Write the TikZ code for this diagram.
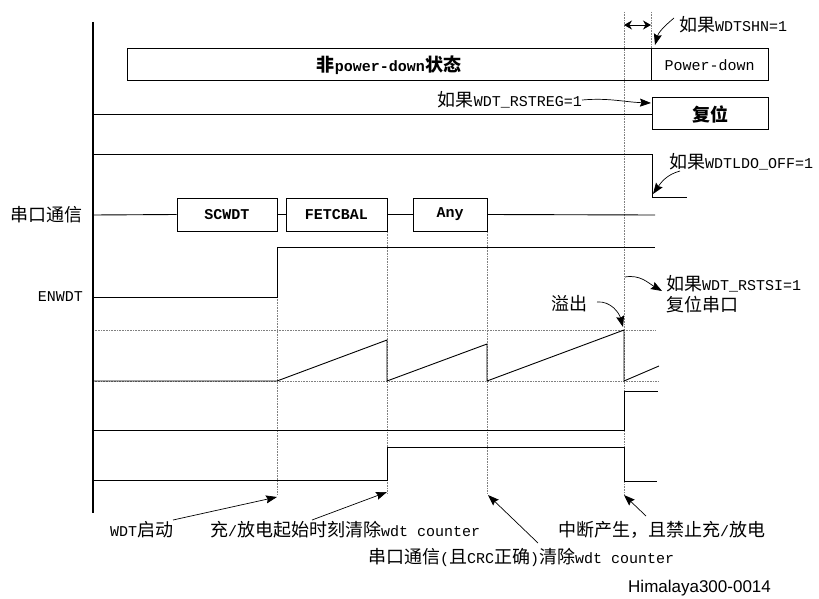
\documentclass[tikz,border=0pt]{standalone}
\usepackage{fontspec}
\setmainfont{Liberation Mono}
\setsansfont{Liberation Sans}
\newfontfamily\cjk{Noto Sans CJK SC}[Scale=1.2]
\newcommand{\C}[1]{{\cjk #1}}
\usetikzlibrary{arrows.meta}
\begin{document}
\begin{tikzpicture}[x=1pt,y=-1pt,
  every node/.style={font=\fontsize{15}{18}\selectfont},
  box/.style={draw, line width=1pt, inner sep=0pt, minimum height=33pt},
  sig/.style={line width=0.9pt},
  gridline/.style={densely dotted, gray, line width=0.6pt},
  arr/.style={-{Stealth[length=11pt,width=8pt,inset=1.5pt]}, line width=0.7pt},
  lbl/.style={inner sep=0pt}]
\useasboundingbox (0,0) rectangle (819,599);
% dotted guides
\draw[gridline] (277,297) -- (277,494);
\draw[gridline] (387,232) -- (387,494);
\draw[gridline] (487,232) -- (487,494);
\draw[gridline] (624,12) -- (624,495);
\draw[gridline] (651,12) -- (651,49);
\draw[gridline] (93,330) -- (655,330);
\draw[gridline] (93,381) -- (658,381);
% axis
\draw[line width=1.3pt] (93,22) -- (93,513);
% state boxes
\node[box, minimum width=524pt, minimum height=32pt] (np) at (389,65) {\bfseries\C{非}power-down\C{状态}};
\node[box, minimum width=117pt, minimum height=32pt] (pd) at (709.5,65) {Power-down};
\node[box, minimum width=116pt, minimum height=32pt] (rs) at (710,114) {\bfseries\C{\bfseries 复位}};
% timing double arrow
\coordinate (dA) at (624,25);
\coordinate (dB) at (651,25);
\draw[{Stealth[length=8pt,width=9pt]}-{Stealth[length=8pt,width=9pt]}, line width=0.9pt] (dA) -- (dB);
% WDTSHN
\node[lbl, anchor=west] (shn) at (679,25) {\C{如果}WDTSHN=1};
\coordinate (shnS) at (674,18);
\coordinate (shnE) at (655,45);
\draw[arr] (shnS) to[out=220,in=75] (shnE);
% reset line
\draw[sig] (93,114) -- (rs.west);
\node[lbl, anchor=east] (rstreg) at (582,100) {\C{如果}WDT\_RSTREG=1};
\coordinate (rstregE) at (651,103);
\draw[arr] (rstreg.east) to[out=5,in=178] (rstregE);
% LDO line
\draw[sig] (93,154) -- (652,154) -- (652,197) -- (687,197);
\node[lbl, anchor=west] (ldo) at (669,162) {\C{如果}WDTLDO\_OFF=1};
\coordinate (ldoS) at (680,171);
\coordinate (ldoE) at (653,194);
\draw[arr] (ldoS) to[out=195,in=55] (ldoE);
% serial communication
\node[lbl, anchor=east] (uart) at (83,215) {\C{串口通信}};
\node[box, minimum width=100pt] (sc) at (227,214.5) {\bfseries SCWDT};
\node[box, minimum width=101pt] (fe) at (336.5,214.5) {\bfseries FETCBAL};
\node[box, minimum width=74pt] (any) at (450,214.5) {\bfseries Any};
\coordinate (uartS) at (93,215);
\coordinate (uartE) at (655,215);
\draw[sig] (uartS) -- (sc.west);
\draw[sig] (sc.east) -- (fe.west);
\draw[sig] (fe.east) -- (any.west);
\draw[sig] (any.east) -- (uartE);
% ENWDT
\node[lbl, anchor=east] (en) at (83,297) {ENWDT};
\draw[sig] (93,297) -- (277,297) -- (277,247) -- (655,247);
% counter sawtooth
\draw[sig] (93,381) -- (277,381) -- (387,340) -- (387,381) -- (487,344) -- (487,381) -- (624,330) -- (624,381) -- (659,366);
% interrupt
\draw[sig] (93,430) -- (624,430) -- (624,391) -- (658,391);
% charge/discharge
\draw[sig] (93,480) -- (387,480) -- (387,447) -- (624,447) -- (624,481) -- (657,481);
% overflow
\node[lbl] (ovf) at (569,304) {\C{溢出}};
\coordinate (ovfS) at (597,302);
\coordinate (ovfE) at (623,327);
\draw[arr] (ovfS) to[out=5,in=105] (ovfE);
% RSTSI
\node[lbl, anchor=west] (rstsi) at (666,284) {\C{如果}WDT\_RSTSI=1};
\node[lbl, anchor=west] (rstsi2) at (666,305) {\C{复位串口}};
\coordinate (rsS) at (625,277);
\coordinate (rsE) at (662,291);
\draw[arr] (rsS) to[out=10,in=150] (rsE);
% bottom annotations
\node[lbl, anchor=west] (start) at (110,530) {WDT\C{启动}};
\node[lbl, anchor=west] (chg) at (210,530) {\C{充}/\C{放电起始时刻清除}wdt counter};
\node[lbl, anchor=west] (crc) at (368,557) {\C{串口通信}(\C{且}CRC\C{正确})\C{清除}wdt counter};
\node[lbl, anchor=west] (irq) at (558,530) {\C{中断产生，且禁止充}/\C{放电}};
\coordinate (t1) at (277,497);
\coordinate (t2) at (387,492);
\coordinate (t3) at (488,495);
\coordinate (t4) at (624,495);
\coordinate (s1) at (173,520);
\coordinate (s2) at (312,520);
\coordinate (s3) at (538,543);
\coordinate (s4) at (646,516);
\draw[arr] (s1) -- (t1);
\draw[arr] (s2) -- (t2);
\draw[arr] (s3) -- (t3);
\draw[arr] (s4) -- (t4);
% figure id
\node[lbl, anchor=west, font=\sffamily\fontsize{17}{20}\selectfont] (fid) at (628,588) {Himalaya300-0014};
\end{tikzpicture}
\end{document}
